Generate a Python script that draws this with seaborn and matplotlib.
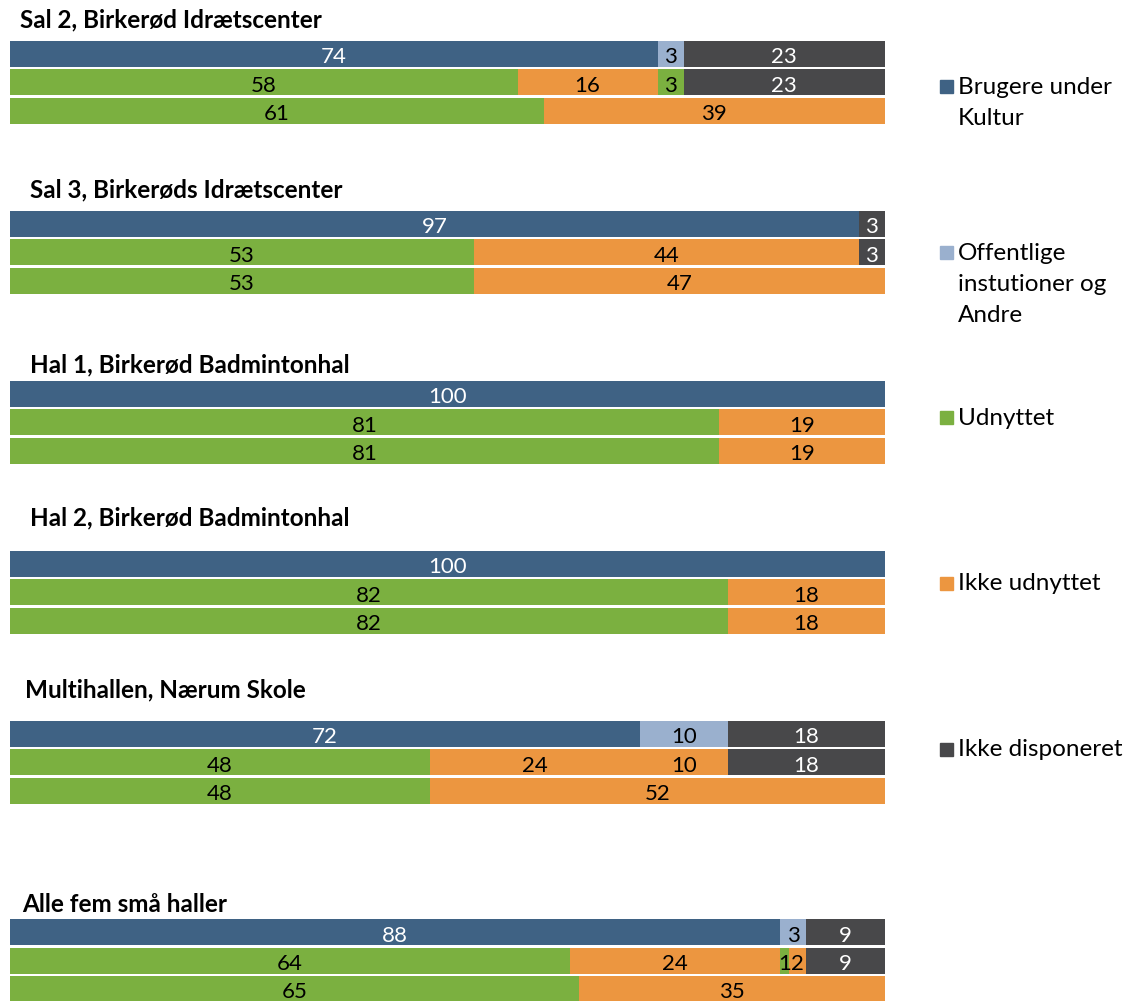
import numpy as np
import pandas as pd
import matplotlib
matplotlib.use('Agg')
import matplotlib.pyplot as plt
from matplotlib.patches import Rectangle
import seaborn as sns

# group titles
titles = ["Sal 2, Birkerød Idrætscenter", "Sal 3, Birkerøds Idrætscenter",
          "Hal 1, Birkerød Badmintonhal", "Hal 2, Birkerød Badmintonhal",
          "Multihallen, Nærum Skole", "Alle fem små haller"]

# row 1: Brugere under Kultur / Offentlige / Ikke disponeret
kultur = [[74, 3, 23], [97, 0, 3], [100, 0, 0], [100, 0, 0], [72, 10, 18], [88, 3, 9]]
# row 2: kultur udnyttet / kultur ikke udnyttet / off. udnyttet / off. ikke udnyttet / ikke disponeret
detail = [[58, 16, 3, 0, 23], [53, 44, 0, 0, 3], [81, 19, 0, 0, 0],
          [82, 18, 0, 0, 0], [48, 24, 0, 10, 18], [64, 24, 1, 2, 9]]
# row 3: udnyttet / ikke udnyttet
total = [[61, 39], [53, 47], [81, 19], [82, 18], [48, 52], [65, 35]]

legend_labels = ["Brugere under\nKultur", "Offentlige\ninstutioner og\nAndre",
                 "Udnyttet", "Ikke udnyttet", "Ikke disponeret"]

BLUE = "#3F6284"
LBLUE = "#9AB0CE"
GREEN = "#7BB040"
ORANGE = "#EC9640"
DARK = "#48484A"
legend_colors = [BLUE, LBLUE, GREEN, ORANGE, DARK]
row_colors = [[BLUE, LBLUE, DARK], [GREEN, ORANGE, GREEN, ORANGE, DARK], [GREEN, ORANGE]]
white_text = {BLUE, DARK}

# layout
group_start = [0, 6, 12, 18, 24, 31]
n_slots = 34
title_x_px = [20, 30, 30, 30, 25, 22]
title_y_px = [20, 190, 365, 518, 690, 905]
legend_y_px = [87, 253, 418, 584, 750]
W, H = 1134, 1001

records = []
for g in range(len(titles)):
    for r, vals in enumerate([kultur[g], detail[g], total[g]]):
        pos = group_start[g] + r
        left = 0
        for k, v in enumerate(vals):
            records.append(dict(slot=str(pos), ypos=pos, seg=k, value=v, left=left,
                                end=left + v, color=row_colors[r][k]))
            left += v
df = pd.DataFrame(records)

sns.set_theme(style="white")
plt.rcParams['font.family'] = ['Lato', 'DejaVu Sans']

fig = plt.figure(figsize=(W / 100, H / 100), dpi=100)
ax = fig.add_axes([10 / W, -0.0021, 875 / W, 0.9623])

order = [str(i) for i in range(n_slots)]
pal = {c: c for c in df['color'].unique()}
# cumulative bars, drawn back to front
for k in sorted(df['seg'].unique(), reverse=True):
    sub = df[df['seg'] == k]
    sns.barplot(data=sub, x='end', y='slot', hue='color', palette=pal, order=order,
                orient='h', dodge=False, width=0.92, saturation=1, errorbar=None,
                legend=False, linewidth=0, ax=ax)

for _, row in df[df['value'] > 0].iterrows():
    ax.text(row['left'] + row['value'] / 2, row['ypos'] + 0.12, str(row['value']),
            ha='center', va='center', fontsize=16,
            color='white' if row['color'] in white_text else 'black')

ax.set_xlim(0, 100)
ax.set_ylim(n_slots - 0.5, -0.5)
ax.axis('off')

for t, x, y in zip(titles, title_x_px, title_y_px):
    fig.text(x / W, 1 - y / H, t, ha='left', va='center', fontsize=17.5,
             fontweight='bold', color='black')

for lab, col, y in zip(legend_labels, legend_colors, legend_y_px):
    fig.patches.append(Rectangle((940 / W, 1 - (y + 6) / H), 13 / W, 13 / H,
                                 transform=fig.transFigure, color=col))
    for i, line in enumerate(lab.split('\n')):
        fig.text(958 / W, 1 - (y + i * 31.5) / H, line, ha='left', va='center',
                 fontsize=17.5, color='black')

fig.savefig('out.png', dpi=100)
